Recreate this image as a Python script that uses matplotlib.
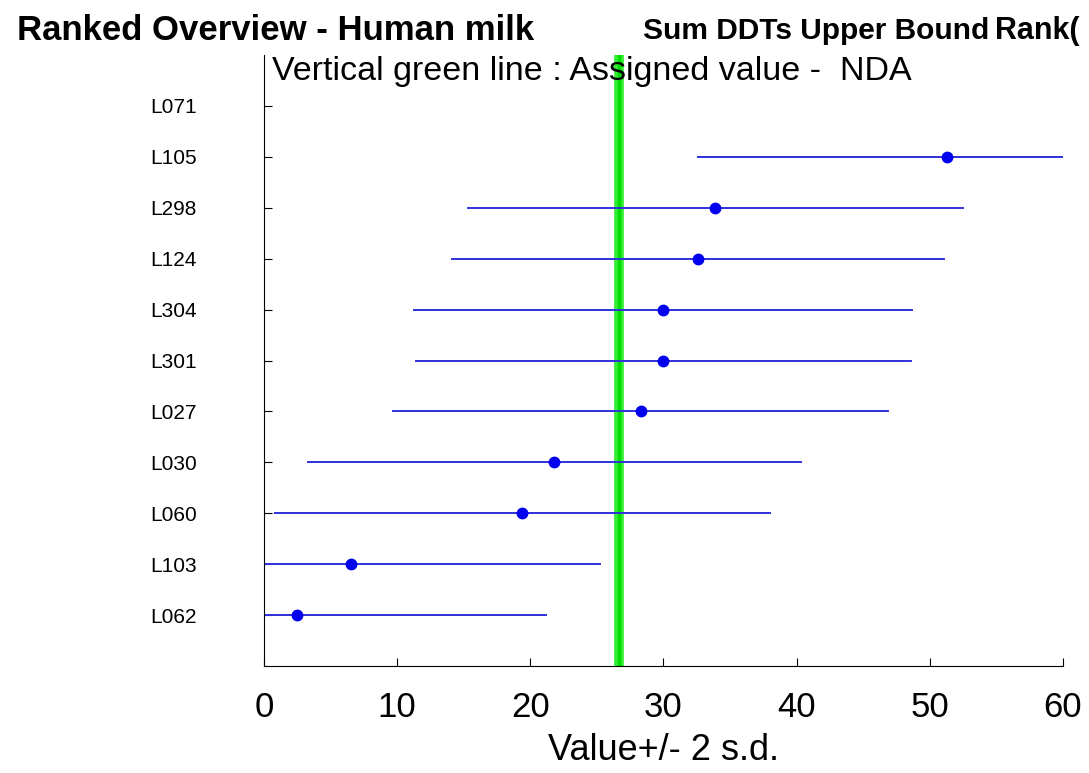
# Ranked overview chart - Human milk, Sum DDTs Upper Bound
import numpy as np
import matplotlib.pyplot as plt

plt.rcParams['font.family'] = ['Liberation Sans', 'DejaVu Sans']

# Data (top to bottom)
labs = ['L071', 'L105', 'L298', 'L124', 'L304', 'L301', 'L027', 'L030', 'L060', 'L103', 'L062']
values = [np.nan, 51.3, 33.9, 32.6, 30.0, 30.0, 28.3, 21.8, 19.4, 6.5, 2.5]
two_sd = [np.nan, 18.7, 18.6, 18.5, 18.7, 18.6, 18.6, 18.5, 18.6, 18.7, 18.7]
assigned = 26.7

fig = plt.figure(figsize=(10.89, 7.73), dpi=100)
ax = fig.add_axes([0.2424, 0.1384, 0.7336, 0.7904])

ypos = np.arange(len(labs), 0, -1)
vals = np.array(values)
sd = np.array(two_sd)

# assigned value
ax.axvline(assigned, color='#33ee33', lw=7, zorder=1)
ax.axvline(assigned, color='#00dd00', lw=2.5, zorder=1)

for y, v, s in zip(ypos, vals, sd):
    if np.isnan(v):
        continue
    ax.plot([v - s, v + s], [y, y], color='#3030dd', lw=1.4, zorder=2)
    ax.plot(v, y, 'o', color='#0000ee', ms=7.5, zorder=3)

ax.set_xlim(0, 60)
ax.set_ylim(0, 12)
ax.set_yticks(ypos)
ax.set_yticklabels(labs, fontsize=15)
ax.set_xticks(range(0, 61, 10))
ax.tick_params(axis='x', labelsize=25, direction='in', length=6, pad=18)
ax.tick_params(axis='y', direction='in', length=6, pad=82)
for t in ax.get_yticklabels():
    t.set_horizontalalignment('left')
ax.spines['top'].set_visible(False)
ax.spines['right'].set_visible(False)
ax.set_xlabel('Value+/- 2 s.d.', fontsize=26, va='center')
ax.xaxis.set_label_coords(0.5, -0.138)

fig.text(0.016, 0.960, 'Ranked Overview - Human milk', fontsize=25, fontweight='bold', va='center')
fig.text(0.590, 0.960, 'Sum DDTs Upper Bound', fontsize=21.5, fontweight='bold', va='center')
fig.text(0.914, 0.960, 'Rank(', fontsize=22, fontweight='bold', va='center')
fig.text(0.250, 0.908, 'Vertical green line : Assigned value -  NDA', fontsize=24.5, va='center')

fig.savefig('out.png', dpi=100)
